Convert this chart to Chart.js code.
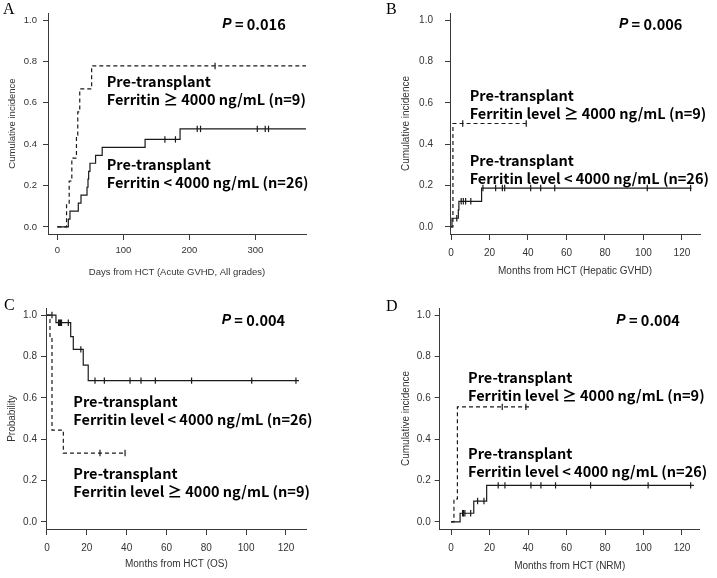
<!DOCTYPE html>
<html>
<head>
<meta charset="utf-8">
<script src="https://cdn.jsdelivr.net/npm/chart.js@4.4.1/dist/chart.umd.min.js"></script>
<style>
body { margin: 0; background: #fff; }
#fig { position: relative; width: 717px; height: 578px; background: #fff; }
canvas { position: absolute; }
</style>
</head>
<body>
<div id="fig">
  <canvas id="cA" width="358" height="289" style="left:0;top:0"></canvas>
  <canvas id="cB" width="359" height="289" style="left:358px;top:0"></canvas>
  <canvas id="cC" width="358" height="289" style="left:0;top:289px"></canvas>
  <canvas id="cD" width="359" height="289" style="left:358px;top:289px"></canvas>
</div>
<script>
// shared ticks
var probTicks = [0, 0.2, 0.4, 0.6, 0.8, 1.0];
var dayTicks = [0, 100, 200, 300];
var monthTicks = [0, 20, 40, 60, 80, 100, 120];

// A - acute GVHD, days
var aHigh = [[0, 0], [14, 0.111], [18, 0.222], [22, 0.333], [29, 0.444], [31, 0.556], [34, 0.667], [52, 0.778], [378, 0.778]];
var aHighCens = [[239, 0.778]];
var aLow = [[0, 0], [16.7, 0.038], [19.2, 0.077], [31.8, 0.115], [35.9, 0.154], [45, 0.192], [46.5, 0.231], [47.5, 0.269], [49.5, 0.308], [58, 0.346], [68, 0.385], [133, 0.423], [186, 0.474], [378, 0.474]];
var aLowCens = [[163, 0.423], [179, 0.423], [212, 0.474], [217, 0.474], [303, 0.474], [315, 0.474], [320, 0.474]];

// B - hepatic GVHD, months
var bHigh = [[0, 0], [1, 0.5], [40, 0.5]];
var bHighCens = [[6.1, 0.5], [39.1, 0.5]];
var bLow = [[0, 0], [0.5, 0.042], [3.8, 0.083], [4.1, 0.124], [15.9, 0.188], [125, 0.188]];
var bLowCens = [[3, 0.042], [5.3, 0.124], [6.4, 0.124], [7.6, 0.124], [10.3, 0.124], [16.6, 0.188], [23.2, 0.188], [26.7, 0.188], [27.9, 0.188], [41.4, 0.188], [46.6, 0.188], [53.9, 0.188], [102, 0.188], [124.5, 0.188]];

// C - overall survival, months
var cHigh = [[0, 1], [1.5, 0.889], [2.5, 0.444], [8.2, 0.333], [39.7, 0.333]];
var cHighCens = [[26.6, 0.333], [39.2, 0.333]];
var cLow = [[0, 1], [4.5, 0.963], [11.9, 0.896], [13.2, 0.834], [18.2, 0.758], [20.7, 0.683], [126.5, 0.683]];
var cLowCens = [[2.5, 1], [5.8, 0.963], [6.3, 0.963], [6.8, 0.963], [7.3, 0.963], [10.7, 0.963], [17, 0.834], [24.1, 0.683], [28.8, 0.683], [41.7, 0.683], [47.2, 0.683], [54.4, 0.683], [72.6, 0.683], [102.8, 0.683], [125, 0.683]];

// D - NRM, months
var dHigh = [[0, 0], [1.5, 0.111], [3.3, 0.556], [40.5, 0.556]];
var dHighCens = [[26.6, 0.556], [38.9, 0.556]];
var dLow = [[0, 0], [4.7, 0.042], [11.8, 0.101], [18.5, 0.177], [126.2, 0.177]];
var dLowCens = [[6, 0.042], [6.5, 0.042], [7.2, 0.042], [10.2, 0.042], [13.8, 0.101], [17.1, 0.101], [24.5, 0.177], [28, 0.177], [41.5, 0.177], [46.7, 0.177], [54.3, 0.177], [72.5, 0.177], [102.4, 0.177], [124.5, 0.177]];

var ink = '#1a1a1a';
var axisCol = '#3a3a3a';
var labelFont = 'bold 14.5px "Noto Sans CJK KR", "Noto Sans", sans-serif';

function drawText(chart, p) {
    var ctx = chart.ctx, sx = chart.scales.x, sy = chart.scales.y;
    ctx.save();
    ctx.fillStyle = '#000';
    ctx.textBaseline = 'middle';
    ctx.textAlign = 'left';
    ctx.font = '16px "Liberation Serif", serif';
    ctx.fillText(p.letter, p.letterAt[0], p.letterAt[1]);

    var px = sx.getPixelForValue(p.pAt[0]), py = sy.getPixelForValue(p.pAt[1]);
    ctx.font = 'italic bold 14px "Liberation Sans", Arial';
    ctx.fillText('P', px, py);
    var w = ctx.measureText('P').width;
    ctx.font = labelFont;
    ctx.fillText(' = ' + p.pValue, px + w, py);

    p.notes.forEach(function (n) {
        var nx = sx.getPixelForValue(n.at[0]), ny = sy.getPixelForValue(n.at[1]);
        n.lines.forEach(function (t, i) {
            ctx.fillText(t, nx, ny + i * 17.8);
        });
    });
    ctx.restore();
}

function makePanel(id, p) {
    var tickFont = { family: '"Liberation Sans", Arial', size: p.fs };
    new Chart(document.getElementById(id), {
        type: 'line',
        data: {
            datasets: [
                { data: p.high, borderColor: ink, borderWidth: 1.2, borderDash: [4, 3], stepped: true, pointRadius: 0, fill: false },
                { data: p.low, borderColor: ink, borderWidth: 1.2, stepped: true, pointRadius: 0, fill: false },
                { type: 'scatter', data: p.cens, pointStyle: 'line', rotation: 90, pointRadius: 3.2,
                  pointBorderColor: ink, pointBorderWidth: 1.2 }
            ]
        },
        options: {
            responsive: false,
            animation: false,
            layout: { padding: p.pad },
            plugins: { legend: { display: false }, tooltip: { enabled: false } },
            scales: {
                x: {
                    type: 'linear', min: p.xMin, max: p.xMax,
                    afterBuildTicks: function (s) { s.ticks = p.xTicks.map(function (v) { return { value: v }; }); },
                    afterFit: function (s) { s.height = p.hx; s.paddingLeft = 0; s.paddingRight = 0; },
                    grid: { drawOnChartArea: false, tickLength: 6, color: axisCol },
                    border: { color: axisCol, width: 1 },
                    ticks: { padding: p.xPad, color: '#333', font: tickFont, maxRotation: 0, autoSkip: false },
                    title: { display: true, text: p.xTitle, color: '#333', font: tickFont, padding: 0 }
                },
                y: {
                    type: 'linear', min: -0.034, max: 1.034,
                    afterBuildTicks: function (s) { s.ticks = probTicks.map(function (v) { return { value: v }; }); },
                    afterFit: function (s) { s.width = p.wy; s.paddingTop = 0; s.paddingBottom = 0; },
                    grid: { drawOnChartArea: false, tickLength: 5, color: axisCol },
                    border: { color: axisCol, width: 1 },
                    ticks: { padding: p.yPad, color: '#333', font: tickFont, callback: function (v) { return v.toFixed(1); } },
                    title: { display: true, text: p.yTitle, color: '#333', font: tickFont, padding: 0 }
                }
            }
        },
        plugins: [{ id: 'txt' + id, afterDraw: function (c) { drawText(c, p); } }]
    });
}

var highA = ['Pre-transplant', 'Ferritin \u2265 4000 ng/mL (n=9)'];
var lowA = ['Pre-transplant', 'Ferritin < 4000 ng/mL (n=26)'];
var highLvl = ['Pre-transplant', 'Ferritin level \u2265 4000 ng/mL (n=9)'];
var lowLvl = ['Pre-transplant', 'Ferritin level < 4000 ng/mL (n=26)'];

makePanel('cA', {
    high: aHigh, low: aLow, cens: aHighCens.concat(aLowCens), xTicks: dayTicks,
    xMin: -14.1, xMax: 376.8, fs: 9.5,
    pad: { left: 6.3, right: 52, top: 13, bottom: 11.3 }, wy: 41.7, hx: 43.7, xPad: 5, yPad: 6,
    xTitle: 'Days from HCT (Acute GVHD, All grades)', yTitle: 'Cumulative incidence',
    letter: 'A', letterAt: [3, 10], pValue: '0.016', pAt: [250, 0.979],
    notes: [{ at: [74.8, 0.702], lines: highA }, { at: [74.8, 0.300], lines: lowA }]
});

makePanel('cB', {
    high: bHigh, low: bLow, cens: bHighCens.concat(bLowCens), xTicks: monthTicks,
    xMin: -0.52, xMax: 129.4, fs: 10,
    pad: { left: 42.3, right: 17, top: 13, bottom: 11.3 }, wy: 49.7, hx: 43.7, xPad: 7, yPad: 12,
    xTitle: 'Months from HCT (Hepatic GVHD)', yTitle: 'Cumulative incidence',
    letter: 'B', letterAt: [28, 10], pValue: '0.006', pAt: [87.3, 0.979],
    notes: [{ at: [9.7, 0.634], lines: highLvl }, { at: [9.7, 0.319], lines: lowLvl }]
});

makePanel('cC', {
    high: cHigh, low: cLow, cens: cHighCens.concat(cLowCens), xTicks: monthTicks,
    xMin: -0.5, xMax: 130.4, fs: 10,
    pad: { left: 6.7, right: 51.3, top: 19, bottom: 7.3 }, wy: 39.3, hx: 41.7, xPad: 7, yPad: 4,
    xTitle: 'Months from HCT (OS)', yTitle: 'Probability',
    letter: 'C', letterAt: [4, 16.5], pValue: '0.004', pAt: [87.7, 0.974],
    notes: [{ at: [13.2, 0.583], lines: lowLvl }, { at: [13.2, 0.233], lines: highLvl }]
});

makePanel('cD', {
    high: dHigh, low: dLow, cens: dHighCens.concat(dLowCens), xTicks: monthTicks,
    xMin: -5.9, xMax: 129.2, fs: 10,
    pad: { left: 42.3, right: 17.3, top: 19, bottom: 5.7 }, wy: 39.4, hx: 43.3, xPad: 7, yPad: 4,
    xTitle: 'Months from HCT (NRM)', yTitle: 'Cumulative incidence',
    letter: 'D', letterAt: [28, 18], pValue: '0.004', pAt: [85.9, 0.974],
    notes: [{ at: [8.8, 0.696], lines: highLvl }, { at: [8.8, 0.330], lines: lowLvl }]
});
</script>
</body>
</html>
